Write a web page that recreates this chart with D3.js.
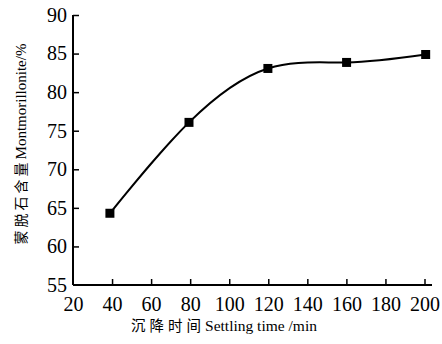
<!DOCTYPE html>
<html>
<head>
<meta charset="utf-8">
<script src="https://cdn.jsdelivr.net/npm/d3@7/dist/d3.min.js"></script>
<style>
  html, body { margin: 0; padding: 0; background: #fff; }
  svg { display: block; }
  text { font-family: "Liberation Serif", "Times New Roman", "Noto Sans CJK SC", serif; fill: #000; }
</style>
</head>
<body>
<svg id="chart" width="442" height="344"></svg>
<script>
const times = [38.9, 79.4, 119.8, 160.1, 200.6];
const montmorillonite = [64.3, 76.08, 83.07, 83.85, 84.88];
const xTicks = [20, 40, 60, 80, 100, 120, 140, 160, 180, 200];
const yTicks = [55, 60, 65, 70, 75, 80, 85, 90];
const xTitleCJK = "沉降时间";
const xTitleLatin = "Settling time /min";
const yTitleCJK = "蒙脱石含量";
const yTitleLatin = "Montmorillonite/%";

const svg = d3.select("#chart");
const x = d3.scaleLinear().domain([20, 200]).range([73, 424.5]);
const y = d3.scaleLinear().domain([55, 90]).range([285, 15]);

const g = svg.append("g");

// axes lines
g.append("line").attr("x1", x(20)).attr("x2", 432).attr("y1", y(55)).attr("y2", y(55))
  .attr("stroke", "#000").attr("stroke-width", 2);
g.append("line").attr("x1", x(20)).attr("x2", x(20)).attr("y1", y(55)).attr("y2", y(90))
  .attr("stroke", "#000").attr("stroke-width", 2);

const xAxis = d3.axisBottom(x).tickValues(xTicks).tickSize(-6).tickPadding(12).tickFormat(d3.format("d"));
const xg = g.append("g").attr("transform", `translate(0,${y(55)})`).call(xAxis);
xg.select(".domain").remove();
xg.selectAll(".tick line").attr("stroke", "#000").attr("stroke-width", 1.5)
  .filter(d => d === 20).remove();
xg.selectAll(".tick text").attr("font-size", 20).attr("dy", "0.71em").attr("fill", "#000")
  .attr("font-family", "Liberation Serif");

const yAxis = d3.axisLeft(y).tickValues(yTicks).tickSize(-6).tickPadding(6).tickFormat(d3.format("d"));
const yg = g.append("g").attr("transform", `translate(${x(20)},0)`).call(yAxis);
yg.select(".domain").remove();
yg.selectAll(".tick line").attr("stroke", "#000").attr("stroke-width", 1.5)
  .filter(d => d === 55).remove();
yg.selectAll(".tick text").attr("font-size", 20).attr("fill", "#000")
  .attr("font-family", "Liberation Serif");

// line
const pts = times.map((t, i) => [t, montmorillonite[i]]);
g.append("path").datum(pts)
  .attr("fill", "none").attr("stroke", "#000").attr("stroke-width", 2)
  .attr("d", d3.line().x(d => x(d[0])).y(d => y(d[1])).curve(d3.curveNatural));

g.selectAll("rect.m").data(pts).enter().append("rect").attr("class", "m")
  .attr("x", d => x(d[0]) - 4.5).attr("y", d => y(d[1]) - 4.5)
  .attr("width", 9).attr("height", 9).attr("fill", "#000");

// x title
const xt = svg.append("text").attr("x", 224).attr("y", 331).attr("text-anchor", "middle").attr("font-size", 15.5);
xt.append("tspan").text(xTitleCJK).attr("letter-spacing", 4).attr("font-family", "Noto Sans CJK SC").attr("font-size", 14.5);
xt.append("tspan").text(xTitleLatin);

// y title
const yt = svg.append("text").attr("transform", "translate(26,144) rotate(-90)").attr("text-anchor", "middle").attr("font-size", 15);
yt.append("tspan").text(yTitleCJK).attr("letter-spacing", 3).attr("font-family", "Noto Sans CJK SC").attr("font-size", 14);
yt.append("tspan").text(yTitleLatin);
</script>
</body>
</html>
